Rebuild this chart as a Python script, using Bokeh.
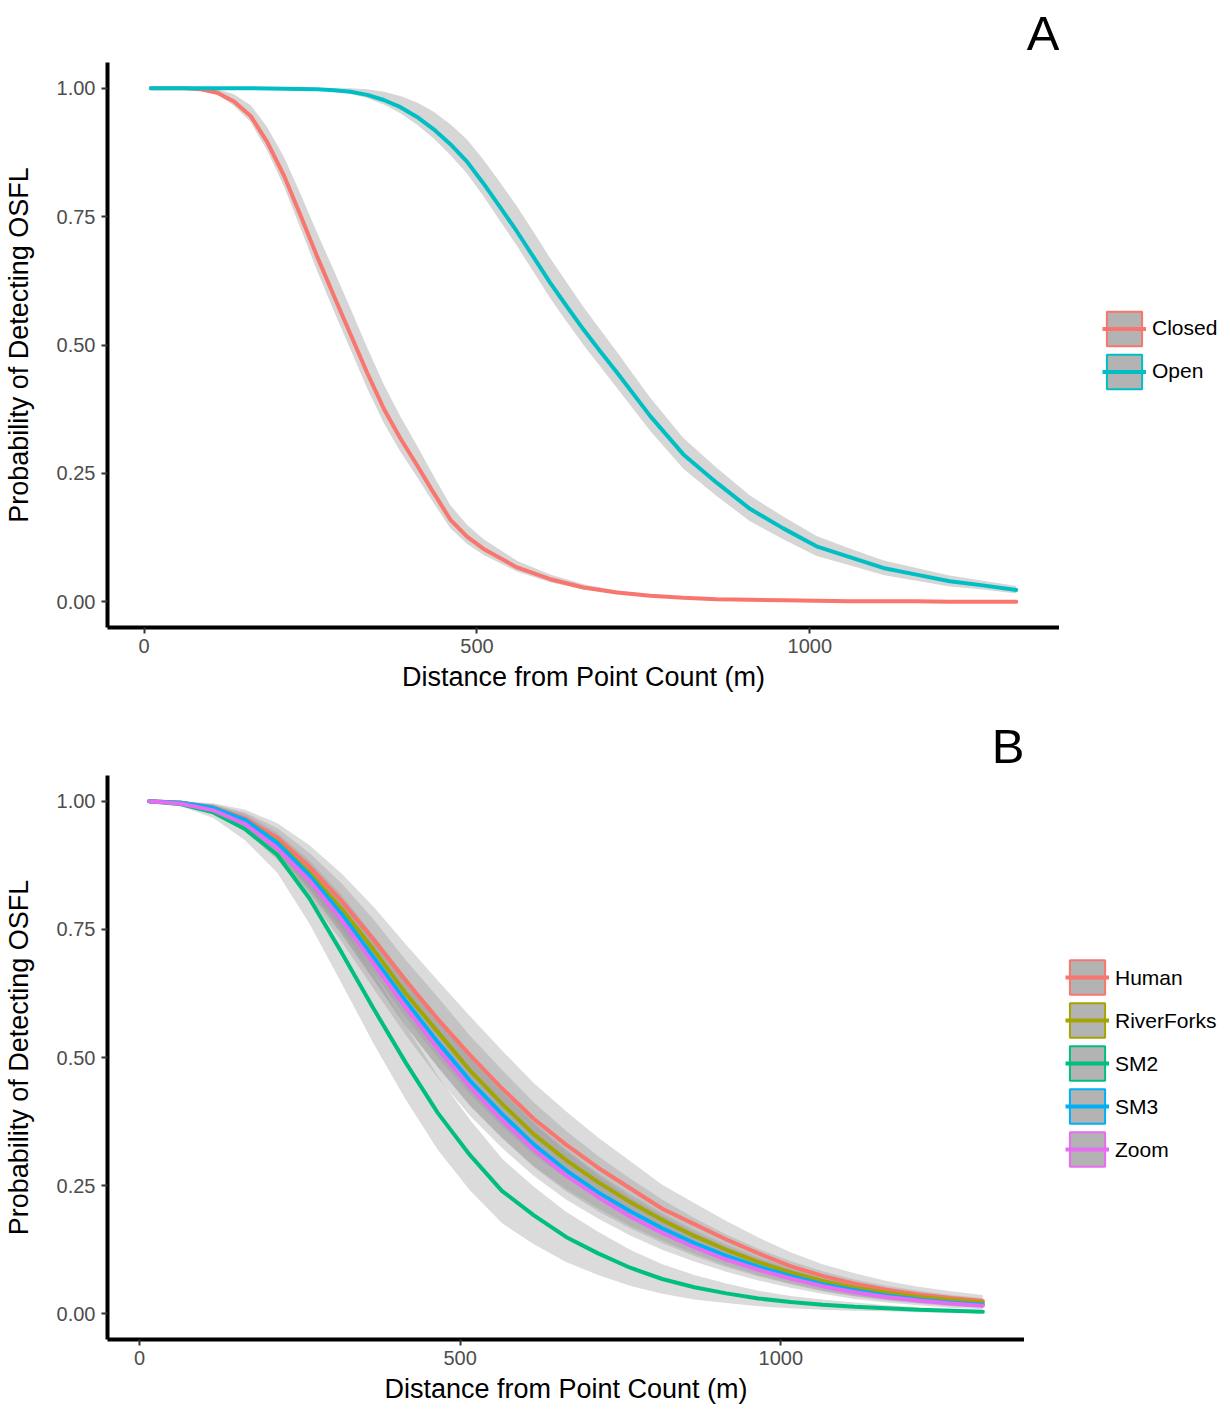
import numpy as np
from bokeh.plotting import figure
from bokeh.models import (Range1d, FixedTicker, NumeralTickFormatter, Legend,
                          LegendItem)
from bokeh.layouts import column, row
from bokeh.embed import file_html
from bokeh.resources import INLINE

# ---------------- Panel A data ----------------
closed_dist = [10, 60, 85, 110, 135, 160, 185, 210, 235, 260, 285, 310, 335, 360,
               385, 410, 435, 460, 485, 510, 560, 610, 660, 710, 760, 810, 860,
               910, 960, 1010, 1060, 1110, 1160, 1210, 1260, 1310]
closed_p = [1.000, 1.000, 0.998, 0.991, 0.974, 0.946, 0.895, 0.830, 0.752, 0.672,
            0.596, 0.521, 0.446, 0.376, 0.318, 0.266, 0.212, 0.160, 0.127, 0.103,
            0.067, 0.044, 0.028, 0.018, 0.012, 0.008, 0.005, 0.004, 0.003, 0.002,
            0.001, 0.001, 0.001, 0.000, 0.000, 0.000]
closed_up = [0.000, 0.001, 0.003, 0.007, 0.014, 0.021, 0.029, 0.036, 0.042, 0.046,
             0.049, 0.050, 0.049, 0.047, 0.043, 0.038, 0.033, 0.028, 0.023, 0.019,
             0.013, 0.009, 0.006, 0.004, 0.003, 0.002, 0.001, 0.001, 0.001, 0.000,
             0.000, 0.000, 0.000, 0.000, 0.000, 0.000]
closed_dn = [0.000, 0.001, 0.002, 0.004, 0.008, 0.012, 0.017, 0.021, 0.025, 0.028,
             0.030, 0.030, 0.030, 0.028, 0.026, 0.023, 0.020, 0.017, 0.014, 0.012,
             0.008, 0.006, 0.004, 0.003, 0.002, 0.001, 0.001, 0.001, 0.000, 0.000,
             0.000, 0.000, 0.000, 0.000, 0.000, 0.000]

open_dist = [10, 60, 110, 160, 210, 260, 285, 310, 335, 360, 385, 410, 435, 460,
             485, 510, 535, 560, 585, 610, 635, 660, 685, 710, 760, 810, 860, 910,
             960, 1010, 1060, 1110, 1160, 1210, 1260, 1310]
open_p = [1.000, 1.000, 1.000, 1.000, 0.999, 0.998, 0.996, 0.993, 0.987, 0.977,
          0.963, 0.944, 0.920, 0.891, 0.857, 0.814, 0.768, 0.721, 0.671, 0.621,
          0.575, 0.530, 0.488, 0.447, 0.362, 0.287, 0.232, 0.181, 0.143, 0.108,
          0.087, 0.066, 0.053, 0.040, 0.032, 0.023]
open_up = [0.000, 0.000, 0.000, 0.000, 0.001, 0.002, 0.004, 0.007, 0.011, 0.016,
           0.022, 0.028, 0.034, 0.039, 0.043, 0.046, 0.048, 0.049, 0.049, 0.048,
           0.046, 0.044, 0.042, 0.040, 0.036, 0.032, 0.029, 0.026, 0.023, 0.020,
           0.017, 0.015, 0.013, 0.011, 0.009, 0.008]
open_dn = [0.000, 0.000, 0.000, 0.000, 0.001, 0.001, 0.002, 0.004, 0.006, 0.009,
           0.012, 0.015, 0.018, 0.021, 0.023, 0.025, 0.027, 0.028, 0.029, 0.030,
           0.030, 0.030, 0.030, 0.030, 0.029, 0.028, 0.026, 0.024, 0.021, 0.019,
           0.016, 0.014, 0.012, 0.010, 0.008, 0.007]
labels_a = ["Closed", "Open"]
colors_a = ["#F8766D", "#00BFC4"]

# ---------------- Panel B data ----------------
dist_b = [15, 65, 115, 165, 215, 265, 315, 365, 415, 465, 515, 565, 615, 665,
          715, 765, 815, 865, 915, 965, 1015, 1065, 1115, 1165, 1215, 1265, 1315]
human_p = [1.000, 0.997, 0.988, 0.966, 0.928, 0.872, 0.805, 0.730, 0.650, 0.575,
           0.505, 0.440, 0.380, 0.330, 0.285, 0.245, 0.205, 0.175, 0.145, 0.118,
           0.093, 0.074, 0.059, 0.047, 0.038, 0.031, 0.025]
riverforks_p = [1.000, 0.997, 0.986, 0.962, 0.920, 0.860, 0.790, 0.710, 0.625, 0.550,
                0.475, 0.410, 0.350, 0.300, 0.257, 0.218, 0.183, 0.152, 0.125, 0.101,
                0.081, 0.064, 0.051, 0.041, 0.033, 0.027, 0.022]
sm2_p = [1.000, 0.994, 0.978, 0.945, 0.895, 0.810, 0.705, 0.595, 0.490, 0.392,
         0.310, 0.240, 0.192, 0.150, 0.118, 0.090, 0.068, 0.052, 0.040, 0.030,
         0.023, 0.018, 0.014, 0.011, 0.008, 0.006, 0.004]
sm3_p = [1.000, 0.997, 0.987, 0.963, 0.918, 0.855, 0.780, 0.695, 0.610, 0.530,
         0.455, 0.390, 0.330, 0.280, 0.237, 0.200, 0.167, 0.138, 0.113, 0.092,
         0.074, 0.058, 0.046, 0.036, 0.028, 0.022, 0.018]
zoom_p = [1.000, 0.995, 0.982, 0.955, 0.908, 0.845, 0.768, 0.683, 0.598, 0.517,
          0.443, 0.378, 0.320, 0.270, 0.228, 0.190, 0.158, 0.130, 0.106, 0.086,
          0.069, 0.054, 0.042, 0.033, 0.026, 0.020, 0.016]
human_hw = [0.000, 0.003, 0.008, 0.017, 0.029, 0.042, 0.054, 0.064, 0.071, 0.075,
            0.076, 0.074, 0.070, 0.065, 0.059, 0.053, 0.047, 0.041, 0.036, 0.031,
            0.027, 0.023, 0.020, 0.017, 0.015, 0.013, 0.012]
riverforks_hw = [0.000, 0.003, 0.008, 0.016, 0.027, 0.039, 0.050, 0.059, 0.065, 0.068,
                 0.068, 0.066, 0.062, 0.057, 0.051, 0.046, 0.040, 0.035, 0.030, 0.026,
                 0.022, 0.019, 0.016, 0.014, 0.012, 0.010, 0.009]
sm2_hw = [0.000, 0.004, 0.011, 0.022, 0.035, 0.049, 0.060, 0.068, 0.072, 0.072,
          0.069, 0.063, 0.056, 0.049, 0.042, 0.035, 0.029, 0.024, 0.019, 0.015,
          0.012, 0.010, 0.008, 0.006, 0.005, 0.004, 0.003]
sm3_hw = [0.000, 0.002, 0.006, 0.012, 0.020, 0.029, 0.037, 0.043, 0.047, 0.049,
          0.049, 0.047, 0.044, 0.041, 0.037, 0.033, 0.029, 0.025, 0.022, 0.019,
          0.016, 0.014, 0.012, 0.010, 0.008, 0.007, 0.006]
zoom_hw = [0.000, 0.003, 0.007, 0.014, 0.023, 0.033, 0.042, 0.049, 0.054, 0.056,
           0.056, 0.054, 0.051, 0.047, 0.042, 0.037, 0.033, 0.028, 0.024, 0.021,
           0.018, 0.015, 0.013, 0.011, 0.009, 0.008, 0.007]
labels_b = ["Human", "RiverForks", "SM2", "SM3", "Zoom"]
colors_b = ["#F8766D", "#A3A500", "#00BF7D", "#00B0F6", "#E76BF3"]

y_ticks = [0.0, 0.25, 0.5, 0.75, 1.0]
x_ticks = [0, 500, 1000]

FONT = "Liberation Sans"
PAGE_W = 1214


def make_panel(letter, xs_list, series, ups, dns, labels, colors, frame_w,
               frame_h, border_top, border_bottom, legend_gap, legend_shift,
               ribbon_alpha):
    all_x = [v for xs in xs_list for v in xs]
    span = max(all_x) - min(all_x)
    p = figure(frame_width=frame_w, frame_height=frame_h, output_backend="svg",
               toolbar_location=None, frame_align=False,
               x_range=Range1d(min(all_x) - 0.05 * span, max(all_x) + 0.05 * span),
               y_range=Range1d(-0.05, 1.05),
               min_border_left=100, min_border_right=0,
               min_border_bottom=border_bottom, min_border_top=border_top)
    p.title.text = letter
    p.title.align = "right"
    p.title.text_font = FONT
    p.title.text_font_size = "49px"
    p.title.text_font_style = "normal"
    p.title.text_color = "black"
    p.title.standoff = 6
    p.grid.visible = False
    p.outline_line_color = None
    p.background_fill_color = "white"
    p.border_fill_color = "white"

    for ax in (p.xaxis[0], p.yaxis[0]):
        ax.axis_line_width = 4
        ax.axis_line_color = "black"
        ax.major_tick_line_color = "#333333"
        ax.major_tick_line_width = 2
        ax.major_tick_out = 6
        ax.major_tick_in = 0
        ax.minor_tick_line_color = None
        ax.major_label_text_font = FONT
        ax.major_label_text_font_size = "20px"
        ax.major_label_text_color = "#4d4d4d"
        ax.axis_label_text_font = FONT
        ax.axis_label_text_font_size = "27px"
        ax.axis_label_text_font_style = "normal"
        ax.axis_label_text_color = "black"
    xa, ya = p.xaxis[0], p.yaxis[0]
    xa.ticker = FixedTicker(ticks=x_ticks)
    ya.ticker = FixedTicker(ticks=y_ticks)
    ya.formatter = NumeralTickFormatter(format="0.00")
    xa.axis_label = "Distance from Point Count (m)"
    ya.axis_label = "Probability of Detecting OSFL"
    xa.major_label_standoff = 5
    xa.axis_label_standoff = 6
    ya.major_label_standoff = 6
    ya.axis_label_standoff = 20

    # confidence ribbons first, then the fitted lines
    for xs, ys, up, dn in zip(xs_list, series, ups, dns):
        lo = [y - d for y, d in zip(ys, dn)]
        hi = [min(1.0, y + u) for y, u in zip(ys, up)]
        p.varea(x=xs, y1=lo, y2=hi, fill_color="#999999", fill_alpha=ribbon_alpha)
    for xs, ys, col in zip(xs_list, series, colors):
        p.line(xs, ys, line_color=col, line_width=4, line_cap="round")

    # legend lives in its own narrow figure to the right of the panel
    leg_w = PAGE_W - 100 - frame_w
    lf = figure(frame_width=leg_w - legend_gap, frame_height=frame_h,
                output_backend="svg", toolbar_location=None, frame_align=False,
                x_axis_type=None, y_axis_type=None,
                x_range=Range1d(-2, -1), y_range=Range1d(2, 3),
                min_border_left=legend_gap, min_border_right=0,
                min_border_top=border_top + legend_shift,
                min_border_bottom=border_bottom - legend_shift)
    lf.grid.visible = False
    lf.outline_line_color = None
    lf.background_fill_color = "white"
    lf.border_fill_color = "white"
    items = []
    for xs, ys, lab, col in zip(xs_list, series, labels, colors):
        key = lf.rect(x=[xs[0]], y=[ys[0]], width=1, height=0.01,
                      fill_color="#b3b3b3", line_color=col, line_width=2)
        ln = lf.line(xs, ys, line_color=col, line_width=4)
        items.append(LegendItem(label=lab, renderers=[key, ln]))
    leg = Legend(items=items, glyph_width=44, glyph_height=43, spacing=0,
                 padding=2, margin=0, label_standoff=6, location="center_left",
                 label_text_font=FONT, label_text_font_size="21px",
                 label_text_color="black", border_line_color=None,
                 background_fill_alpha=0, click_policy="none")
    lf.add_layout(leg, "center")
    return row(p, lf, spacing=0)


pa = make_panel("A", [closed_dist, open_dist], [closed_p, open_p],
                [closed_up, open_up], [closed_dn, open_dn],
                labels_a, colors_a, frame_w=952, frame_h=565,
                border_top=58, border_bottom=84, legend_gap=43, legend_shift=9,
                ribbon_alpha=0.4)
pb = make_panel("B", [dist_b] * 5, [human_p, riverforks_p, sm2_p, sm3_p, zoom_p],
                [human_hw, riverforks_hw, sm2_hw, sm3_hw, zoom_hw],
                [human_hw, riverforks_hw, sm2_hw, sm3_hw, zoom_hw],
                labels_b, colors_b, frame_w=917, frame_h=564,
                border_top=64, border_bottom=60, legend_gap=41, legend_shift=6,
                ribbon_alpha=0.35)

layout = column(pa, pb, spacing=0)
open("out.html", "w").write(file_html(layout, INLINE))
